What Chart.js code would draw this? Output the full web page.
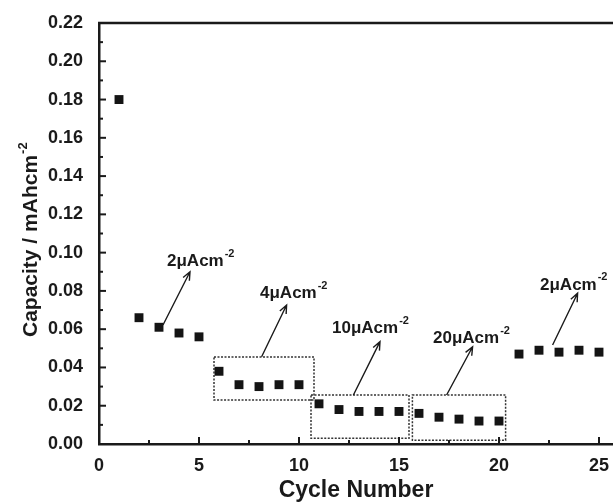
<!DOCTYPE html>
<html>
<head>
<meta charset="utf-8">
<script src="https://cdn.jsdelivr.net/npm/chart.js@4/dist/chart.umd.min.js"></script>
<style>
  html, body { margin: 0; padding: 0; background: #fff; }
  canvas { display: block; }
</style>
</head>
<body>
<canvas id="c" width="613" height="502"></canvas>
<script>
// data
const cycles = [1, 2, 3, 4, 5, 6, 7, 8, 9, 10, 11, 12, 13, 14, 15, 16, 17, 18, 19, 20, 21, 22, 23, 24, 25];
const capacity = [0.180, 0.066, 0.061, 0.058, 0.056, 0.038, 0.031, 0.030, 0.031, 0.031,
                  0.021, 0.018, 0.017, 0.017, 0.017, 0.016, 0.014, 0.013, 0.012, 0.012,
                  0.047, 0.049, 0.048, 0.049, 0.048];
const rateLabels = ['2μAcm', '4μAcm', '10μAcm', '20μAcm', '2μAcm'];
const rateUnitExp = '-2';
const xTitle = 'Cycle Number';
const yTitle = 'Capacity / mAhcm';

// annotation placement in data units (label anchor, arrow tail -> head)
const notes = [
    { label: [3.4, 0.0953],  from: [3.2, 0.0622],   to: [4.55, 0.0900] },
    { label: [8.05, 0.0788], from: [8.13, 0.0456],  to: [9.38, 0.0726] },
    { label: [11.65, 0.0605], from: [12.72, 0.0256], to: [14.05, 0.0535] },
    { label: [16.7, 0.0552], from: [17.38, 0.0256], to: [18.68, 0.0508] },
    { label: [22.05, 0.0831], from: [22.68, 0.0517], to: [23.93, 0.0788] }
];
// dotted boxes [xMin, xMax, yMin, yMax]
const boxes = [
    [5.75, 10.75, 0.023, 0.0455],
    [10.6, 15.5, 0.003, 0.0256],
    [15.67, 20.33, 0.002, 0.0256]
];

const FONT = '"Liberation Sans", Arial, sans-serif';
const INK = '#1a1a1a';

function textWithSup(ctx, x, y, base, sup, size, supSize) {
    ctx.font = `bold ${size}px ${FONT}`;
    ctx.fillText(base, x, y);
    const w = ctx.measureText(base).width;
    ctx.font = `bold ${supSize}px ${FONT}`;
    ctx.fillText(sup, x + w + 1, y - size * 0.45);
}

const decor = {
    id: 'decor',
    beforeDatasetsDraw(chart) {
        const { ctx, scales: { x, y } } = chart;
        ctx.save();
        ctx.strokeStyle = '#333';
        ctx.lineWidth = 1.5;
        ctx.setLineDash([2, 1.5]);
        boxes.forEach(b => {
            const x0 = x.getPixelForValue(b[0]), x1 = x.getPixelForValue(b[1]);
            const y0 = y.getPixelForValue(b[3]), y1 = y.getPixelForValue(b[2]);
            ctx.strokeRect(x0, y0, x1 - x0, y1 - y0);
        });
        ctx.restore();
    },
    afterDraw(chart) {
        const { ctx, chartArea, scales: { x, y } } = chart;
        ctx.save();
        ctx.strokeStyle = INK;
        ctx.fillStyle = INK;

        // top frame line
        ctx.lineWidth = 2.5;
        ctx.beginPath();
        ctx.moveTo(chartArea.left - 1, chartArea.top);
        ctx.lineTo(chartArea.right, chartArea.top);
        ctx.stroke();

        // inward tick marks
        ctx.lineWidth = 2;
        for (let i = 0; i <= 22; i++) {
            const py = y.getPixelForValue(i * 0.01);
            const len = i % 2 === 0 ? 7 : 4;
            ctx.beginPath();
            ctx.moveTo(chartArea.left, py);
            ctx.lineTo(chartArea.left + len, py);
            ctx.stroke();
        }
        for (let i = 1; i <= 10; i++) {
            const px = x.getPixelForValue(i * 2.5);
            const len = i % 2 === 0 ? 7 : 4;
            ctx.beginPath();
            ctx.moveTo(px, chartArea.bottom);
            ctx.lineTo(px, chartArea.bottom - len);
            ctx.stroke();
        }

        // arrows
        ctx.lineWidth = 1.4;
        notes.forEach(n => {
            const x0 = x.getPixelForValue(n.from[0]), y0 = y.getPixelForValue(n.from[1]);
            const x1 = x.getPixelForValue(n.to[0]), y1 = y.getPixelForValue(n.to[1]);
            const a = Math.atan2(y1 - y0, x1 - x0);
            ctx.beginPath();
            ctx.moveTo(x0, y0);
            ctx.lineTo(x1, y1);
            ctx.moveTo(x1 - 9 * Math.cos(a - 0.4), y1 - 9 * Math.sin(a - 0.4));
            ctx.lineTo(x1, y1);
            ctx.lineTo(x1 - 9 * Math.cos(a + 0.4), y1 - 9 * Math.sin(a + 0.4));
            ctx.stroke();
        });

        // current density labels
        ctx.textBaseline = 'middle';
        ctx.textAlign = 'left';
        notes.forEach((n, i) => {
            textWithSup(ctx, x.getPixelForValue(n.label[0]), y.getPixelForValue(n.label[1]),
                rateLabels[i], rateUnitExp, 17, 11);
        });

        // y axis title, rotated
        ctx.translate(37, 337);
        ctx.rotate(-Math.PI / 2);
        ctx.textBaseline = 'alphabetic';
        ctx.font = `bold 21px ${FONT}`;
        ctx.fillText(yTitle, 0, 0);
        const w = ctx.measureText(yTitle).width;
        ctx.font = `bold 13px ${FONT}`;
        ctx.fillText(rateUnitExp, w + 1, -10);
        ctx.restore();
    }
};

new Chart(document.getElementById('c'), {
    type: 'scatter',
    data: {
        datasets: [{
            data: cycles.map((c, i) => ({ x: c, y: capacity[i] })),
            pointStyle: 'rect',
            pointRadius: 6.3,
            pointHoverRadius: 6.3,
            backgroundColor: '#141414',
            borderColor: '#141414',
            borderWidth: 0
        }]
    },
    options: {
        responsive: false,
        devicePixelRatio: 1,
        animation: false,
        layout: { autoPadding: false, padding: { top: 23, right: 0, left: 0, bottom: 0 } },
        plugins: { legend: { display: false }, tooltip: { enabled: false } },
        scales: {
            x: {
                type: 'linear',
                min: 0,
                max: 25.7,
                afterFit: s => { s.height = 58; s.paddingLeft = 0; s.paddingRight = 0; },
                grid: { display: false },
                border: { display: true, color: INK, width: 2.5 },
                ticks: {
                    stepSize: 5,
                    includeBounds: false,
                    padding: 3,
                    color: INK,
                    font: { family: FONT, size: 18, weight: 'bold' },
                    maxRotation: 0,
                    callback: v => (v % 5 === 0 ? v : '')
                },
                title: {
                    display: true,
                    text: xTitle,
                    color: INK,
                    padding: { top: 0, bottom: 0 },
                    font: { family: FONT, size: 23, weight: 'bold', lineHeight: 1 }
                }
            },
            y: {
                min: 0,
                max: 0.22,
                afterFit: s => { s.width = 99; s.paddingTop = 0; s.paddingBottom = 0; },
                grid: { display: false },
                border: { display: true, color: INK, width: 2.5 },
                ticks: {
                    stepSize: 0.02,
                    padding: 8,
                    color: INK,
                    font: { family: FONT, size: 18, weight: 'bold' },
                    callback: v => v.toFixed(2)
                }
            }
        }
    },
    plugins: [decor]
});
</script>
</body>
</html>
